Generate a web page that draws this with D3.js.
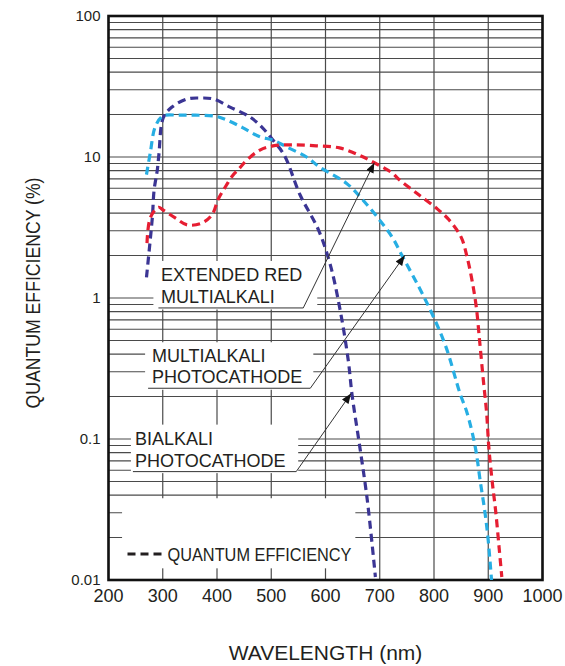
<!DOCTYPE html>
<html>
<head>
<meta charset="utf-8">
<script src="https://cdn.jsdelivr.net/npm/d3@7"></script>
<style>
  html, body { margin: 0; padding: 0; background: #fff; }
  svg { display: block; }
  text { font-family: "Liberation Sans", Arial, Helvetica, sans-serif; fill: #231f20; }
</style>
</head>
<body>
<script>
// Spectral response of photocathodes: quantum efficiency (%) vs wavelength (nm)

const xTickValues = [200, 300, 400, 500, 600, 700, 800, 900, 1000];
const yTickValues = [0.01, 0.1, 1, 10, 100];
const yTickLabels = ["0.01", "0.1", "1", "10", "100"];

// Bialkali photocathode
const bialkaliNm = [270, 277, 281, 284, 290, 293, 301, 317, 345, 369, 393, 424, 461, 484, 503,
                    524, 553, 587, 609, 627, 642, 649, 664, 677, 692];
const bialkaliQE = [1.4, 2.6, 3.8, 5.8, 8.1, 10.5, 19, 22.6, 25.8, 26.2, 25.8, 22.6, 19.2, 16.1, 13.2,
                    10.3, 5.4, 3.04, 1.71, 0.82, 0.36, 0.205, 0.084, 0.037, 0.0105];

// Multialkali photocathode
const multialkaliNm = [270, 277, 286, 300, 330, 360, 396, 418, 448, 479, 503, 528, 565, 589, 639,
                       668, 699, 723, 741, 772, 796, 822, 848, 861, 876, 885, 894, 900, 906];
const multialkaliQE = [7.5, 10.7, 16.3, 19.5, 19.8, 19.8, 19.5, 18.3, 16.1, 13.9, 13.2, 11.8, 10, 8.5, 6.5,
                       5.0, 3.6, 2.7, 2.0, 1.2, 0.78, 0.45, 0.21, 0.153, 0.088, 0.051, 0.030, 0.019, 0.010];

// Extended red multialkali photocathode
const extRedNm = [271, 277, 292, 301, 323, 345, 372, 391, 402, 415, 429, 440, 455, 479, 503, 539,
                  583, 626, 662, 690, 723, 736, 772, 804, 828, 850, 861, 870, 878, 884, 891, 897,
                  901, 907, 914, 920, 925];
const extRedQE = [2.45, 3.7, 4.4, 4.2, 3.7, 3.3, 3.4, 3.9, 5.0, 6.1, 7.4, 8.2, 9.5, 11.2, 12.0, 12.2,
                  12.0, 11.6, 10.3, 9.1, 7.7, 6.9, 5.4, 4.35, 3.57, 2.7, 1.95, 1.34, 0.86, 0.50, 0.26, 0.153,
                  0.088, 0.051, 0.030, 0.017, 0.0105];

const W = 565, H = 666;
const plot = { left: 108.5, right: 542.5, top: 16, bottom: 580 };

const x = d3.scaleLinear().domain([200, 1000]).range([plot.left, plot.right]);
const y = d3.scaleLog().domain([0.01, 100]).range([plot.bottom, plot.top]);

const svg = d3.select("body").append("svg")
  .attr("width", W).attr("height", H)
  .attr("viewBox", `0 0 ${W} ${H}`);

const defs = svg.append("defs");
defs.append("marker")
  .attr("id", "arrowhead")
  .attr("markerUnits", "userSpaceOnUse")
  .attr("viewBox", "0 0 10 8")
  .attr("markerWidth", 11).attr("markerHeight", 8)
  .attr("refX", 10).attr("refY", 4)
  .attr("orient", "auto")
  .append("path").attr("d", "M0,0 L10,4 L0,8 Z").attr("fill", "#111");

// ---- grid ----
const grid = svg.append("g").attr("class", "grid");
const minorValues = [];
[0.01, 0.1, 1, 10].forEach(d => { for (let k = 2; k <= 9; k++) minorValues.push(d * k); });
const hValues = yTickValues.concat(minorValues);

grid.selectAll("line.h").data(hValues).join("line")
  .attr("class", "h")
  .attr("x1", plot.left).attr("x2", plot.right)
  .attr("y1", d => y(d)).attr("y2", d => y(d))
  .attr("stroke", "#4a4a4a").attr("stroke-width", 1.1);

grid.selectAll("line.v").data(xTickValues).join("line")
  .attr("class", "v")
  .attr("x1", d => x(d)).attr("x2", d => x(d))
  .attr("y1", plot.top).attr("y2", plot.bottom)
  .attr("stroke", "#4a4a4a").attr("stroke-width", 1.2);

// ---- annotation layout (data-space anchors) ----
const annotations = [
  { lines: ["EXTENDED RED", "MULTIALKALI"], textNm: 297, startNm: 292, endNm: 559, qe: 0.85,
    tip: [690, 9.1], padL: 5, padR: 14, padTop: 47 },
  { lines: ["MULTIALKALI", "PHOTOCATHODE"], textNm: 280, startNm: 273, endNm: 572, qe: 0.229,
    tip: [746, 2.0], padL: 3, padR: 3, padTop: 46 },
  { lines: ["BIALKALI", "PHOTOCATHODE"], textNm: 249, startNm: 245, endNm: 546, qe: 0.0587,
    tip: [647, 0.21], padL: 2, padR: 2, padTop: 47 }
];

// white panels behind the labels and the legend clear the grid
const panels = svg.append("g");
annotations.forEach(a => {
  const uy = y(a.qe);
  panels.append("rect")
    .attr("x", x(a.startNm) - a.padL)
    .attr("y", uy - a.padTop)
    .attr("width", (x(a.endNm) + a.padR) - (x(a.startNm) - a.padL))
    .attr("height", a.padTop + 1.5)
    .attr("fill", "#fff");
});
const legendBox = { nm0: 225, nm1: 655, qeTop: 0.038, qeBottom: 0.0121 };
panels.append("rect")
  .attr("x", x(legendBox.nm0)).attr("y", y(legendBox.qeTop))
  .attr("width", x(legendBox.nm1) - x(legendBox.nm0))
  .attr("height", y(legendBox.qeBottom) - y(legendBox.qeTop))
  .attr("fill", "#fff");

// ---- frame ----
svg.append("rect")
  .attr("x", plot.left).attr("y", plot.top)
  .attr("width", plot.right - plot.left).attr("height", plot.bottom - plot.top)
  .attr("fill", "none").attr("stroke", "#111").attr("stroke-width", 2.6);

// ---- curves ----
const line = d3.line()
  .x(d => x(d[0])).y(d => y(d[1]))
  .curve(d3.curveCatmullRom.alpha(0.5));

const series = [
  { name: "Bialkali", nm: bialkaliNm, qe: bialkaliQE, color: "#3b3594" },
  { name: "Multialkali", nm: multialkaliNm, qe: multialkaliQE, color: "#27aee3" },
  { name: "Extended red multialkali", nm: extRedNm, qe: extRedQE, color: "#e61e32" }
];

svg.append("g").selectAll("path").data(series).join("path")
  .attr("d", s => line(d3.zip(s.nm, s.qe)))
  .attr("fill", "none")
  .attr("stroke", s => s.color)
  .attr("stroke-width", 3.2)
  .attr("stroke-dasharray", "8,5");

// ---- axis tick labels ----
svg.append("g").selectAll("text").data(yTickValues).join("text")
  .attr("x", plot.left - 8)
  .attr("y", d => y(d))
  .attr("dy", "0.36em")
  .attr("text-anchor", "end")
  .attr("font-size", 15)
  .text((d, i) => yTickLabels[i]);

svg.append("g").selectAll("text").data(xTickValues).join("text")
  .attr("x", d => x(d))
  .attr("y", plot.bottom + 22)
  .attr("text-anchor", "middle")
  .attr("font-size", 18)
  .text(d => d);

// ---- axis titles ----
svg.append("text")
  .attr("x", (plot.left + plot.right) / 2)
  .attr("y", 660)
  .attr("text-anchor", "middle")
  .attr("font-size", 21)
  .text("WAVELENGTH (nm)");

svg.append("text")
  .attr("transform", `translate(40,${(plot.top + plot.bottom) / 2 - 5}) rotate(-90)`)
  .attr("text-anchor", "middle")
  .attr("font-size", 20)
  .attr("textLength", 231)
  .attr("lengthAdjust", "spacingAndGlyphs")
  .text("QUANTUM EFFICIENCY (%)");

// ---- callout labels with leader arrows ----
const callouts = svg.append("g");
annotations.forEach(a => {
  const uy = y(a.qe);
  const tx = x(a.textNm);
  callouts.append("text")
    .attr("x", tx).attr("y", uy - 26.5)
    .attr("font-size", 18)
    .text(a.lines[0]);
  callouts.append("text")
    .attr("x", tx).attr("y", uy - 5)
    .attr("font-size", 18)
    .text(a.lines[1]);
  callouts.append("line")
    .attr("x1", x(a.startNm)).attr("x2", x(a.endNm))
    .attr("y1", uy).attr("y2", uy)
    .attr("stroke", "#333").attr("stroke-width", 1);
  callouts.append("line")
    .attr("x1", x(a.endNm)).attr("y1", uy)
    .attr("x2", x(a.tip[0])).attr("y2", y(a.tip[1]))
    .attr("stroke", "#333").attr("stroke-width", 1)
    .attr("marker-end", "url(#arrowhead)");
});

// ---- legend ----
const legend = svg.append("g").attr("transform", `translate(${plot.left + 19},${plot.bottom - 26})`);
legend.append("line")
  .attr("x1", 0).attr("x2", 35).attr("y1", 0).attr("y2", 0)
  .attr("stroke", "#231f20").attr("stroke-width", 3)
  .attr("stroke-dasharray", "8,5");
legend.append("text")
  .attr("x", 40).attr("y", 6.5)
  .attr("font-size", 18)
  .attr("textLength", 184)
  .attr("lengthAdjust", "spacingAndGlyphs")
  .text("QUANTUM EFFICIENCY");
</script>
</body>
</html>
